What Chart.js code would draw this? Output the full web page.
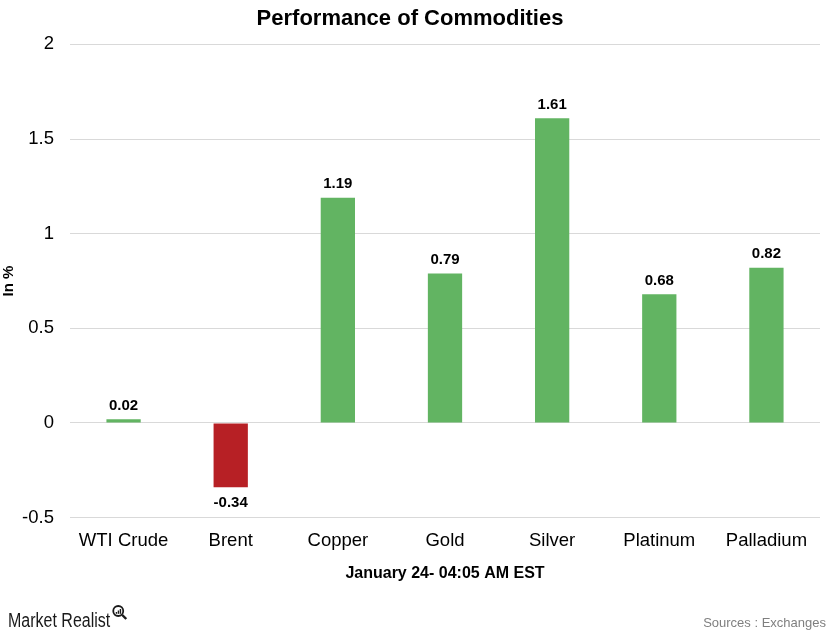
<!DOCTYPE html>
<html>
<head>
<meta charset="utf-8">
<title>Performance of Commodities</title>
<script src="https://cdn.jsdelivr.net/npm/chart.js@4"></script>
<style>
    body { margin: 0; background: #fff; }
    #wrap { width: 833px; height: 633px; }
</style>
</head>
<body>
<div id="wrap"><canvas id="commodityChart" width="833" height="633"></canvas></div>
<script>
const categories = ["WTI Crude", "Brent", "Copper", "Gold", "Silver", "Platinum", "Palladium"];
const changes = [0.02, -0.34, 1.19, 0.79, 1.61, 0.68, 0.82];
const yTicks = [-0.5, 0, 0.5, 1, 1.5, 2];

const green = "#62b462";
const red = "#b72025";
const fontFamily = "'Liberation Sans', Arial, sans-serif";

// value labels above / below each bar
const valueLabels = {
    id: "valueLabels",
    afterDatasetsDraw(chart) {
        const ctx = chart.ctx;
        const meta = chart.getDatasetMeta(0);
        ctx.save();
        ctx.font = "bold 15px " + fontFamily;
        ctx.fillStyle = "#000";
        ctx.textAlign = "center";
        meta.data.forEach((bar, i) => {
            const v = changes[i];
            if (v >= 0) {
                ctx.textBaseline = "bottom";
                ctx.fillText(v.toFixed(2), bar.x, bar.y - 6);
            } else {
                ctx.textBaseline = "top";
                ctx.fillText(v.toFixed(2), bar.x, bar.y + 8);
            }
        });
        ctx.restore();
    }
};

// logo and source line
const footer = {
    id: "footer",
    afterDraw(chart) {
        const ctx = chart.ctx;
        ctx.save();
        ctx.textBaseline = "alphabetic";
        ctx.fillStyle = "#1a1a1a";
        ctx.font = "20px " + fontFamily;
        ctx.textAlign = "left";
        // condensed look of the logo type
        const sx = 0.8;
        ctx.save();
        ctx.translate(8, 627);
        ctx.scale(sx, 1);
        ctx.fillText("Market Realist", 0, 0);
        ctx.restore();
        const x0 = 8 + ctx.measureText("Market Realist").width * sx;
        // small magnifier with bars inside
        ctx.strokeStyle = "#1a1a1a";
        ctx.lineWidth = 1.8;
        ctx.beginPath();
        ctx.arc(x0 + 8, 611, 5, 0, Math.PI * 2);
        ctx.stroke();
        ctx.lineWidth = 2.4;
        ctx.beginPath();
        ctx.moveTo(x0 + 12, 615);
        ctx.lineTo(x0 + 16, 619);
        ctx.stroke();
        ctx.fillRect(x0 + 5.5, 612, 1.4, 1.8);
        ctx.fillRect(x0 + 7.5, 610.5, 1.4, 3.3);
        ctx.fillRect(x0 + 9.5, 609, 1.4, 4.8);

        ctx.fillStyle = "#7f7f7f";
        ctx.font = "13px " + fontFamily;
        ctx.textAlign = "right";
        ctx.fillText("Sources : Exchanges", 826, 627);
        ctx.restore();
    }
};

new Chart(document.getElementById("commodityChart"), {
    type: "bar",
    data: {
        labels: categories,
        datasets: [{
            label: "In %",
            data: changes,
            backgroundColor: changes.map(v => v < 0 ? red : green),
            barPercentage: 0.8,
            categoryPercentage: 0.4
        }]
    },
    options: {
        responsive: false,
        animation: false,
        layout: {
            padding: { left: 0, right: 13, top: 0, bottom: 46 }
        },
        plugins: {
            legend: { display: false },
            tooltip: { enabled: false },
            title: {
                display: true,
                text: "Performance of Commodities",
                color: "#000",
                font: { family: fontFamily, size: 22, weight: "bold" },
                padding: { top: 6, bottom: 12 }
            }
        },
        scales: {
            x: {
                grid: { display: false },
                border: { display: false },
                ticks: {
                    color: "#000",
                    font: { family: fontFamily, size: 18.5 },
                    padding: 4
                },
                title: {
                    display: true,
                    text: "January 24- 04:05 AM EST",
                    color: "#000",
                    font: { family: fontFamily, size: 16, weight: "bold" },
                    padding: { top: 8 }
                }
            },
            y: {
                min: yTicks[0],
                max: yTicks[yTicks.length - 1],
                afterBuildTicks(axis) {
                    axis.ticks = yTicks.map(v => ({ value: v }));
                },
                afterFit(axis) {
                    axis.width = 70;
                },
                grid: { color: "#d9d9d9", lineWidth: 1, drawTicks: false },
                border: { display: false },
                ticks: {
                    color: "#000",
                    font: { family: fontFamily, size: 18.5 },
                    padding: 16,
                    callback: v => String(v)
                },
                title: {
                    display: true,
                    text: "In %",
                    color: "#000",
                    font: { family: fontFamily, size: 15, weight: "bold" },
                    padding: 0
                }
            }
        }
    },
    plugins: [valueLabels, footer]
});
</script>
</body>
</html>
